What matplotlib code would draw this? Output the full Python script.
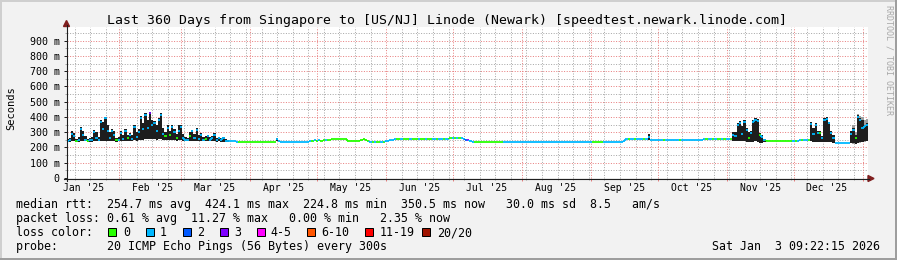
import matplotlib
matplotlib.use('Agg')
import matplotlib.pyplot as plt
import matplotlib.dates as mdates
import matplotlib.transforms as mtransforms
from matplotlib.collections import LineCollection
from matplotlib.patches import Rectangle, Polygon
from matplotlib.lines import Line2D
import datetime as dt

W, H = 897, 260
plt.rcParams['font.family'] = ['DejaVu Sans Mono', 'DejaVu Sans']

# ---------------- data ----------------
title = "Last 360 Days from Singapore to [US/NJ] Linode (Newark) [speedtest.newark.linode.com]"
end_time = dt.datetime(2026, 1, 3, 9, 22, 15)
n_days = 360
start_time = end_time - dt.timedelta(days=n_days)

# daily median rtt (ms)
median_ms = [
    245, 248, 290, 275, 243, 250, 320, 285, 252, 245,
    247, 250, 300, 265, 250, 370, 320, 392, 310, 260,
    305, 280, 250, 250, 295, 258, 305, 262, 285, 258,
    335, 270, 300, 395, 320, 415, 330, 425, 345, 360,
    305, 380, 410, 290, 275, 330, 280, 335, 300, 262,
    310, 335, 265, 252, 250, 275, 305, 262, 315, 258,
    285, 252, 258, 275, 252, 262, 285, 250, 265, 248,
    260, 245, 242, 240, 240, 240, 238, 236, 235, 235,
    234, 235, 236, 235, 234, 235, 235, 236, 235, 234,
    235, 236, 235, 236, 258, 240, 238, 238, 239, 238,
    238, 239, 238, 238, 239, 238, 238, 238, 239, 240,
    243, 246, 244, 248, 245, 249, 246, 247, 250, 254,
    255, 256, 255, 254, 255, 256, 244, 243, 242, 243,
    243, 244, 252, 254, 251, 240, 238, 238, 239, 238,
    238, 237, 238, 240, 244, 247, 250, 253, 255, 254,
    255, 256, 254, 255, 256, 255, 254, 255, 256, 255,
    254, 255, 256, 255, 255, 254, 256, 255, 254, 256,
    257, 258, 260, 261, 260, 259, 261, 260, 258, 252,
    246, 240, 238, 238, 237, 238, 237, 238, 238, 237,
    238, 237, 238, 238, 237, 238, 238, 238, 238, 238,
    238, 238, 238, 238, 238, 238, 238, 238, 238, 238,
    238, 238, 238, 238, 238, 238, 238, 238, 238, 237,
    233, 233, 234, 238, 238, 238, 238, 238, 238, 238,
    238, 238, 238, 238, 238, 238, 234, 234, 234, 234,
    234, 234, 234, 234, 234, 234, 234, 234, 234, 234,
    244, 253, 254, 254, 254, 253, 254, 254, 254, 254,
    254, 270, 252, 251, 251, 251, 251, 251, 251, 251,
    251, 251, 251, 251, 251, 251, 251, 251, 251, 251,
    251, 251, 251, 252, 252, 252, 253, 254, 253, 254,
    254, 254, 253, 254, 254, 254, 253, 254, 255, 285,
    275, 345, 360, 290, 365, 315, 262, 295, 370, 380,
    372, 285, 272, 250, 243, 243, 242, 243, 243, 243,
    243, 243, 243, 243, 243, 243, 244, 245, 245, 246,
    247, 246, 247, 247, 355, 290, 345, 295, 295, 262,
    380, 390, 360, 295, 265, 230, 230, 232, 230, 229,
    228, 229, 290, 315, 262, 400, 380, 330, 340, 350,
]

# daily loss class (index into loss_labels)
loss_class = [
    1, 1, 1, 1, 0, 1, 1, 1, 1, 0,
    1, 1, 1, 1, 1, 1, 1, 1, 1, 1,
    1, 1, 0, 1, 1, 1, 1, 0, 1, 1,
    1, 1, 1, 1, 1, 1, 1, 3, 1, 1,
    1, 1, 1, 1, 0, 1, 0, 1, 1, 0,
    1, 1, 1, 1, 1, 0, 1, 1, 1, 1,
    1, 1, 0, 1, 1, 1, 1, 1, 1, 1,
    1, 1, 1, 1, 1, 1, 1, 0, 0, 0,
    0, 0, 0, 0, 0, 0, 0, 0, 0, 0,
    0, 0, 0, 0, 1, 1, 1, 1, 1, 1,
    1, 1, 1, 1, 1, 1, 1, 1, 1, 1,
    0, 1, 0, 1, 0, 0, 1, 0, 0, 0,
    0, 0, 0, 0, 0, 0, 0, 0, 0, 0,
    0, 0, 0, 0, 0, 0, 1, 0, 1, 0,
    0, 1, 0, 1, 1, 1, 1, 1, 0, 0,
    1, 0, 0, 0, 1, 0, 0, 0, 1, 0,
    0, 1, 0, 0, 1, 1, 0, 1, 1, 0,
    1, 1, 0, 1, 0, 1, 0, 1, 1, 2,
    3, 1, 1, 0, 0, 0, 0, 0, 0, 0,
    0, 0, 0, 0, 0, 0, 1, 1, 1, 1,
    1, 1, 1, 1, 1, 1, 1, 1, 1, 1,
    1, 1, 1, 1, 1, 1, 1, 1, 1, 1,
    1, 1, 1, 1, 1, 1, 1, 1, 1, 1,
    1, 1, 1, 1, 1, 1, 0, 0, 0, 0,
    0, 1, 1, 1, 1, 1, 1, 1, 1, 1,
    1, 1, 0, 1, 1, 0, 1, 1, 1, 0,
    1, 1, 1, 1, 1, 1, 1, 1, 0, 1,
    1, 1, 1, 1, 1, 0, 1, 1, 1, 1,
    1, 1, 1, 1, 1, 1, 1, 0, 1, 1,
    0, 1, 0, 0, 1, 0, 1, 1, 0, 1,
    1, 1, 1, 1, 1, 1, 0, 1, 1, 1,
    1, 0, 1, 1, 0, 0, 0, 0, 0, 0,
    0, 0, 0, 0, 0, 0, 1, 0, 1, 1,
    0, 1, 1, 0, 1, 1, 1, 1, 0, 1,
    1, 1, 1, 1, 1, 1, 1, 1, 1, 1,
    1, 1, 1, 1, 0, 1, 1, 1, 1, 1,
]

# days with visible smoke (ping spread), low / high edges in ms
smoke_day = (list(range(0, 73)) + [94, 261] + list(range(299, 314))
             + list(range(334, 345)) + list(range(352, 360)))
smoke_lo = [
    238, 238, 240, 240, 236, 238, 240, 242, 240, 236,
    238, 238, 240, 240, 240, 242, 242, 245, 242, 240,
    240, 240, 238, 240, 245, 242, 245, 242, 245, 245,
    248, 245, 248, 250, 250, 255, 255, 258, 255, 255,
    252, 255, 255, 250, 248, 250, 248, 248, 248, 245,
    248, 248, 245, 242, 242, 242, 245, 242, 245, 242,
    242, 240, 240, 240, 240, 240, 240, 238, 240, 238,
    238, 238, 236,
    240, 250,
    245, 242, 245, 245, 240, 240, 238, 235, 235, 238, 240, 238, 232, 232, 235,
    240, 238, 238, 236, 236, 235, 238, 238, 236, 234, 232,
    228, 230, 226, 230, 235, 238, 240, 245,
]
smoke_hi = [
    255, 262, 305, 295, 255, 268, 332, 310, 275, 258,
    260, 270, 315, 300, 270, 382, 365, 398, 345, 300,
    320, 305, 265, 268, 305, 280, 318, 285, 295, 280,
    350, 300, 318, 405, 360, 426, 380, 432, 380, 372,
    350, 392, 425, 330, 300, 348, 310, 348, 318, 290,
    345, 348, 290, 270, 262, 300, 316, 290, 328, 280,
    295, 270, 275, 285, 268, 275, 295, 265, 272, 260,
    268, 255, 250,
    262, 290,
    300, 300, 362, 372, 340, 378, 328, 300, 308, 382, 392, 386, 298, 285, 258,
    370, 330, 362, 306, 306, 275, 392, 402, 370, 306, 280,
    306, 328, 280, 414, 394, 382, 350, 362,
]
# faint outer smoke at the end of December
smoke2_day = [353, 354, 355, 356, 357, 358, 359]
smoke2_lo = [226, 224, 228, 232, 235, 238, 240]
smoke2_hi = [345, 300, 422, 408, 398, 378, 385]

loss_labels = ['0', '1', '2', '3', '4-5', '6-10', '11-19', '20/20']
loss_colors = ['#26ff00', '#00b8ff', '#0059ff', '#7e00ff',
               '#ff00ff', '#ff5500', '#ff0000', '#a01400']

y_ticks_ms = [0, 100, 200, 300, 400, 500, 600, 700, 800, 900]
y_tick_labels = ['0', '100 m', '200 m', '300 m', '400 m', '500 m',
                 '600 m', '700 m', '800 m', '900 m']
y_minor_ms = [50, 150, 250, 350, 450, 550, 650, 750, 850, 950]
y_top_ms = 990

month_starts = [dt.datetime(2025, m, 1) for m in range(1, 13)] + [dt.datetime(2026, 1, 1)]
month_labels = ["Jan '25", "Feb '25", "Mar '25", "Apr '25", "May '25", "Jun '25",
                "Jul '25", "Aug '25", "Sep '25", "Oct '25", "Nov '25", "Dec '25"]

legend_rtt = "median rtt:  254.7 ms avg  424.1 ms max  224.8 ms min  350.5 ms now   30.0 ms sd  8.5   am/s"
legend_loss = "packet loss: 0.61 % avg  11.27 % max   0.00 % min   2.35 % now"
legend_color = "loss color:"
legend_probe = "probe:       20 ICMP Echo Pings (56 Bytes) every 300s"
legend_date = "Sat Jan  3 09:22:15 2026"
y_label = "Seconds"
watermark = "RRDTOOL / TOBI OETIKER"

assert len(median_ms) == n_days and len(loss_class) == n_days
assert len(smoke_day) == len(smoke_lo) == len(smoke_hi)

# ---------------- colours ----------------
BG = '#f2f2f2'
SHADE_A = '#cfcfcf'
SHADE_B = '#9e9e9e'
GRID = '#a8a8a8'
MGRID = '#e88080'
ARROW = '#801f1f'
AXIS = '#1f1f1f'
SMOKE = '#1e1e1e'
SMOKE2 = '#a0a0a0'


def fx(x):
    return x / W


def fy(y):
    return 1 - y / H


fig = plt.figure(figsize=(W / 100, H / 100), dpi=100, facecolor=BG)

AX_L, AX_R, AX_T, AX_B = 66.5, 868, 27, 178
ax = fig.add_axes([fx(AX_L), fy(AX_B), (AX_R - AX_L) / W, (AX_B - AX_T) / H])
ax.set_facecolor('white')
for s in ax.spines.values():
    s.set_visible(False)

t0 = mdates.date2num(start_time)
t1 = mdates.date2num(end_time)
ax.set_xlim(t0, t1)
ax.set_ylim(0, y_top_ms / 1000)

tn = [mdates.date2num(start_time + dt.timedelta(days=i)) for i in range(n_days + 1)]

# ---------------- grid (dotted, 1px on / 1px off) ----------------
gkw = dict(linewidth=0.72, linestyle=(0, (1.0, 1.6)), antialiased=True, zorder=1)
for v in y_minor_ms:
    ax.axhline(v / 1000, color=GRID, **gkw)
for v in y_ticks_ms[1:]:
    ax.axhline(v / 1000, color=MGRID, **gkw)

month_nums = [mdates.date2num(m) for m in month_starts]
sunday = dt.datetime(2025, 1, 12)
weeks = []
while sunday < end_time:
    if sunday > start_time and sunday not in month_starts:
        weeks.append(mdates.date2num(sunday))
    sunday += dt.timedelta(days=7)
for w in weeks:
    ax.axvline(w, color=GRID, **gkw)
for m in month_nums:
    if t0 < m < t1:
        ax.axvline(m, color=MGRID, **gkw)

# ---------------- smoke ----------------
ax.bar([tn[d] for d in smoke2_day],
       [(h - l) / 1000 for l, h in zip(smoke2_lo, smoke2_hi)],
       bottom=[l / 1000 for l in smoke2_lo], width=1.0, align='edge',
       color=SMOKE2, linewidth=0, zorder=2)
ax.bar([tn[d] for d in smoke_day],
       [(h - l) / 1000 for l, h in zip(smoke_lo, smoke_hi)],
       bottom=[l / 1000 for l in smoke_lo], width=1.0, align='edge',
       color=SMOKE, linewidth=0, zorder=2)

# ---------------- median line coloured by loss ----------------
segs, cols = [], []
for i in range(n_days):
    y = median_ms[i] / 1000
    segs.append([(tn[i], y), (tn[i + 1], y)])
    cols.append(loss_colors[loss_class[i]])
    if i + 1 < n_days and abs(median_ms[i + 1] - median_ms[i]) <= 14:
        y2 = median_ms[i + 1] / 1000
        segs.append([(tn[i + 1], y), (tn[i + 1], y2)])
        cols.append(loss_colors[loss_class[i + 1]])
ax.add_collection(LineCollection(segs, colors=cols, linewidths=1.3, zorder=3))

# ---------------- ticks ----------------
ax.set_yticks([v / 1000 for v in y_ticks_ms])
ax.set_yticklabels(y_tick_labels)
ax.set_yticks([v / 1000 for v in y_minor_ms if v < y_top_ms], minor=True)
ax.tick_params(axis='y', which='major', direction='out', length=2.2, width=0.72,
               color=AXIS, pad=2.6, labelsize=7.2, labelcolor='black')
ax.tick_params(axis='y', which='minor', direction='out', length=1.4, width=0.72,
               color=GRID)

ax.set_xticks([m for m in month_nums if t0 < m < t1])
ax.set_xticks(weeks, minor=True)
ax.tick_params(axis='x', which='major', direction='out', length=2.2, width=0.72,
               color=MGRID, labelbottom=False)
ax.tick_params(axis='x', which='minor', direction='out', length=1.4, width=0.72,
               color=GRID, labelbottom=False)

# month labels centred 15 days after month start
trans = mtransforms.blended_transform_factory(ax.transData, fig.transFigure)
for m, lab in zip(month_starts[:12], month_labels):
    ax.text(mdates.date2num(m + dt.timedelta(days=15)), fy(191), lab, transform=trans,
            ha='center', va='baseline', fontsize=7.0, color='black', clip_on=False)

# ---------------- axes lines & arrows ----------------
fig.add_artist(Line2D([fx(66.5), fx(66.5)], [fy(181), fy(25)], color=AXIS, lw=0.8))
fig.add_artist(Line2D([fx(63.5), fx(869)], [fy(178.5), fy(178.5)], color=AXIS, lw=0.8))
fig.add_artist(Polygon([(fx(63.5), fy(26.5)), (fx(69.5), fy(26.5)), (fx(66.5), fy(20.5))],
                       closed=True, color=ARROW, transform=fig.transFigure))
fig.add_artist(Polygon([(fx(868), fy(175.5)), (fx(868), fy(181.5)), (fx(874), fy(178.5))],
                       closed=True, color=ARROW, transform=fig.transFigure))

# ---------------- texts ----------------
fig.text(fx(446.7), fy(24), title, ha='center', va='baseline', fontsize=9.5, color='black')
fig.text(fx(11), fy(108), y_label, rotation=90, ha='center', va='center', fontsize=7.5)
fig.text(fx(889), fy(5), watermark, rotation=270, ha='center', va='top',
         fontsize=6.0, color='#a8a8a8')

LFS = 8.41
fig.text(fx(15.8), fy(208.3), legend_rtt, ha='left', va='baseline', fontsize=LFS)
fig.text(fx(15.8), fy(222.3), legend_loss, ha='left', va='baseline', fontsize=LFS)
fig.text(fx(15.8), fy(236.2), legend_color, ha='left', va='baseline', fontsize=LFS)
fig.text(fx(15.8), fy(250.2), legend_probe, ha='left', va='baseline', fontsize=LFS)
fig.text(fx(880), fy(250.2), legend_date, ha='right', va='baseline', fontsize=LFS)

box_x = [108.3, 145.7, 182.7, 220.0, 256.7, 307.3, 365.0, 421.7]
lab_x = [123.3, 160.0, 196.7, 234.0, 270.7, 321.7, 379.3, 436.7]
for bx, lx, lab, col in zip(box_x, lab_x, loss_labels, loss_colors):
    fig.add_artist(Rectangle((fx(bx), fy(236)), 8 / W, 8 / H, facecolor=col,
                             edgecolor='black', linewidth=0.72,
                             transform=fig.transFigure))
    fig.text(fx(lx), fy(236.2), lab, ha='left', va='baseline', fontsize=LFS)

# ---------------- 3D border ----------------
for (x0, y0, w, h, c) in [(0, 0, W, 2, SHADE_A), (0, 0, 2, H, SHADE_A),
                          (0, H - 2, W, 2, SHADE_B), (W - 2, 0, 2, H, SHADE_B)]:
    fig.add_artist(Rectangle((fx(x0), fy(y0 + h)), w / W, h / H, facecolor=c,
                             edgecolor='none', transform=fig.transFigure))

fig.savefig('out.png', dpi=100, facecolor=BG)
